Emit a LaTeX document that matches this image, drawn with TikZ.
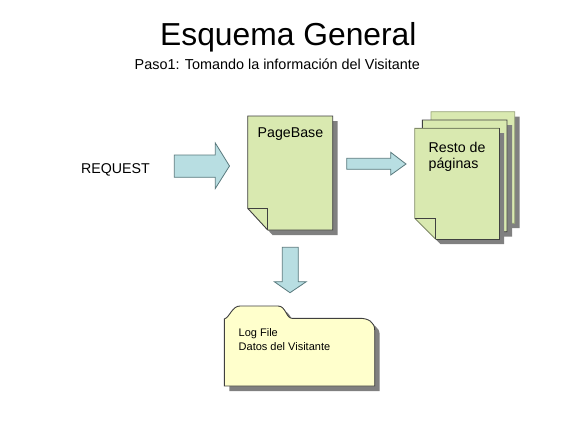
\documentclass[tikz,border=0pt]{standalone}
\usepackage{fontspec}
\setmainfont{Liberation Sans}
\definecolor{arrowfill}{HTML}{B8DEE2}
\definecolor{arrowline}{HTML}{5A7A7E}
\definecolor{pagefill}{HTML}{D9E9B0}
\definecolor{folderfill}{HTML}{FFFFCC}
\definecolor{shadowgray}{HTML}{808080}
\tikzset{
  x=1pt,y=-1pt,
  arrowshape/.style={fill=arrowfill,draw=arrowline,line width=0.8pt,line join=miter},
  pageshape/.style={fill=pagefill,draw=black!75,line width=0.9pt},
  backpage/.style={fill=pagefill,draw=pagefill!70!black,line width=0.9pt},
  lightedge/.style={draw=pagefill!60!black,line width=0.9pt},
  foldershape/.style={fill=folderfill,draw=black!75,line width=0.9pt},
  shade/.style={fill=shadowgray,draw=none},
  label/.style={inner sep=0pt,anchor=base west,text=black,font=\fontsize{14.2}{16}\selectfont},
  smalllabel/.style={inner sep=0pt,anchor=base west,text=black,font=\fontsize{11}{12}\selectfont}
}
\newcommand{\pagepath}[6]{(#1,#2) -- (#3,#2) -- (#3,#4) -- (#5,#4) -- (#1,#6) -- cycle}
\begin{document}
\begin{tikzpicture}
\useasboundingbox (0,0) rectangle (576,432);
\fill[white] (0,0) rectangle (576,432);
% title
\node[label,font=\fontsize{31.8}{36}\selectfont] (title) at (160,45) {Esquema General};
\node[label,font=\fontsize{14.4}{16}\selectfont] (sub) at (134.5,69) {Paso1: Tomando la información del Visitante};
\node[label] (req) at (81,173) {REQUEST};
% arrow 1
\draw[arrowshape] (174.3,155) -- (215.3,155) -- (215.3,143) -- (229.5,166) -- (215.3,188.5) -- (215.3,177.3) -- (174.3,177.3) -- cycle;
% PageBase
\fill[shade] \pagepath{252.5}{121}{337.5}{235}{272.5}{213.3};
\draw[pageshape] \pagepath{247.7}{116}{332.7}{230}{267.7}{208.3};
\draw[pageshape,fill=none] (247.7,208.3) -- (267.7,208.3) -- (267.7,230);
\node[label] (pb) at (257.5,137) {PageBase};
% arrow 2
\draw[arrowshape] (346.7,158.3) -- (390.7,158.3) -- (390.7,152.3) -- (406,164) -- (390.7,175) -- (390.7,169.3) -- (346.7,169.3) -- cycle;
% stacked pages
\fill[shade] \pagepath{436}{116.5}{519.5}{228}{457}{207};
\draw[backpage] \pagepath{431}{111.7}{514.7}{223.3}{452}{202.3};
\fill[shade] \pagepath{427}{125}{512}{236.5}{448}{215.5};
\draw[pageshape] \pagepath{422.3}{120}{507}{231.7}{443.3}{210.7};
\fill[shade] \pagepath{419.5}{133}{504}{244}{440.5}{223};
\fill[pagefill] \pagepath{414.7}{128.3}{499.3}{239.3}{435.7}{218.3};
\draw[lightedge] (499.3,128.3) -- (414.7,128.3) -- (414.7,218.3) -- (435.7,239.3);
\draw[pageshape,fill=none] (499.3,128.3) -- (499.3,239.3) -- (435.7,239.3);
\draw[pageshape,fill=none] (414.7,218.3) -- (435.7,218.3) -- (435.7,239.3);
\node[label] (r1) at (428.5,152) {Resto de};
\node[label] (r2) at (428.5,168) {páginas};
% arrow 3
\draw[arrowshape] (282.3,247.3) -- (298.3,247.3) -- (298.3,281.7) -- (306.3,281.7) -- (290,292.7) -- (274.3,281.7) -- (282.3,281.7) -- cycle;
% folder
\fill[shade,shift={(5,5)}] (224.3,319) .. controls (230,317) and (232,306) .. (240,306) -- (278,306) .. controls (286,306) and (286,318.3) .. (292,318.3) -- (360,318.3) .. controls (368,318.3) and (374.7,322) .. (374.7,330) -- (374.7,386) -- (224.3,386) -- cycle;
\draw[foldershape] (224.3,319) .. controls (230,317) and (232,306) .. (240,306) -- (278,306) .. controls (286,306) and (286,318.3) .. (292,318.3) -- (360,318.3) .. controls (368,318.3) and (374.7,322) .. (374.7,330) -- (374.7,386) -- (224.3,386) -- cycle;
\node[smalllabel] (f1) at (238.5,336) {Log File};
\node[smalllabel] (f2) at (238.5,350) {Datos del Visitante};
\end{tikzpicture}
\end{document}
